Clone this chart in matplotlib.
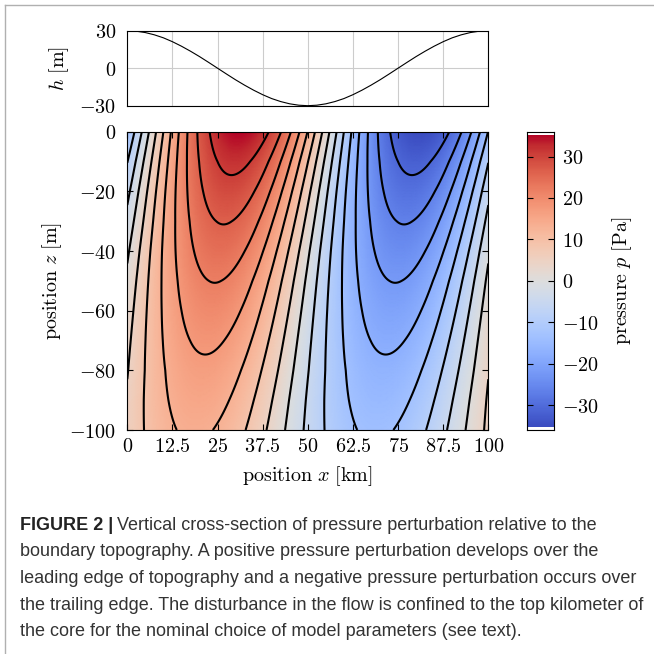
import numpy as np
import matplotlib
matplotlib.use("Agg")
import matplotlib.pyplot as plt
from matplotlib.ticker import FuncFormatter
from matplotlib.lines import Line2D

plt.rcParams['mathtext.fontset'] = 'cm'
plt.rcParams['font.family'] = ['DejaVu Serif']

# ---------------- data ----------------
# topography h(x)
h_x = [0, 2.5, 5, 7.5, 10, 12.5, 15, 17.5, 20, 22.5, 25, 27.5, 30, 32.5, 35, 37.5, 40,
       42.5, 45, 47.5, 50, 52.5, 55, 57.5, 60, 62.5, 65, 67.5, 70, 72.5, 75, 77.5, 80,
       82.5, 85, 87.5, 90, 92.5, 95, 97.5, 100]
h_val = [30, 29.6, 28.5, 26.7, 24.3, 21.2, 17.6, 13.6, 9.3, 4.7, 0, -4.7, -9.3, -13.6,
         -17.6, -21.2, -24.3, -26.7, -28.5, -29.6, -30, -29.6, -28.5, -26.7, -24.3,
         -21.2, -17.6, -13.6, -9.3, -4.7, 0, 4.7, 9.3, 13.6, 17.6, 21.2, 24.3, 26.7,
         28.5, 29.6, 30]

# pressure field: amplitude and crest position (x of maximum) per depth
p_depth = [0, -10, -20, -30, -40, -50, -60, -70, -80, -90, -100]
p_amp = [35.2, 31.9, 29.1, 26.5, 24.2, 22.0, 20.1, 18.3, 16.6, 15.2, 13.8]
p_crest = [31.0, 29.5, 28.1, 26.8, 25.5, 24.3, 23.2, 22.1, 21.0, 19.8, 18.7]
p_wavelength = 100.0

contour_levels = [-30.625, -26.25, -21.875, -17.5, -13.125, -8.75, -4.375, 0,
                  4.375, 8.75, 13.125, 17.5, 21.875, 26.25, 30.625]
p_min, p_max = -35.2, 35.2

x_ticks = [0, 12.5, 25, 37.5, 50, 62.5, 75, 87.5, 100]
z_ticks = [0, -20, -40, -60, -80, -100]
h_ticks = [-30, 0, 30]
cb_ticks = [-30, -20, -10, 0, 10, 20, 30]

caption_lines = [
    "Vertical cross-section of pressure perturbation relative to the",
    "boundary topography. A positive pressure perturbation develops over the",
    "leading edge of topography and a negative pressure perturbation occurs over",
    "the trailing edge. The disturbance in the flow is confined to the top kilometer of",
    "the core for the nominal choice of model parameters (see text).",
]

# ---------------- build field ----------------
xg = np.linspace(0, 100, 301)
zg = np.linspace(-100, 0, 201)
amp = np.interp(zg, p_depth[::-1], p_amp[::-1])
crest = np.interp(zg, p_depth[::-1], p_crest[::-1])
X, Z = np.meshgrid(xg, zg)
P = amp[:, None] * np.cos(2 * np.pi * (X - crest[:, None]) / p_wavelength)

W, H = 654, 654
fig = plt.figure(figsize=(W / 100, H / 100), dpi=100)
fig.patch.set_facecolor('white')

def fx(px):
    return px / W

def fy(py):
    return 1 - py / H

fs = 14.5
mfmt = FuncFormatter(lambda v, pos: r'$%g$' % v)

def style_axes(ax):
    ax.tick_params(direction='in', length=4, width=0.8, top=True, right=True,
                   labelsize=fs, color='black')
    for s in ax.spines.values():
        s.set_linewidth(0.8)

# top panel
L, R = 127.3, 488.3
ax_h = fig.add_axes([fx(L), fy(105.7), fx(R) - fx(L), fy(30.7) - fy(105.7)])
ax_h.plot(h_x, h_val, color='black', lw=0.8)
ax_h.set_xlim(0, 100)
ax_h.set_ylim(-30, 30)
ax_h.set_xticks(x_ticks)
ax_h.set_yticks(h_ticks)
ax_h.grid(True, color='#cccccc', lw=0.8)
ax_h.set_axisbelow(True)
style_axes(ax_h)
ax_h.tick_params(labelbottom=False, length=0)
ax_h.yaxis.set_major_formatter(mfmt)
ax_h.tick_params(axis='y', pad=8)
ax_h.set_ylabel(r'$h\ [\mathrm{m}]$', fontsize=fs, labelpad=6)

# main panel
ax = fig.add_axes([fx(L), fy(430), fx(R) - fx(L), fy(131.7) - fy(430)])
ax.pcolormesh(X, Z, P, cmap='coolwarm', vmin=p_min, vmax=p_max, shading='gouraud',
              rasterized=True)
ax.contour(X, Z, P, levels=contour_levels, colors='black', linewidths=1.5,
           linestyles='solid')
ax.set_xlim(0, 100)
ax.set_ylim(-100, 0)
ax.set_xticks(x_ticks)
ax.set_yticks(z_ticks)
style_axes(ax)
ax.xaxis.set_major_formatter(mfmt)
ax.yaxis.set_major_formatter(mfmt)
ax.tick_params(axis='x', pad=5)
ax.tick_params(axis='y', pad=8)
ax.set_xlabel(r'$\mathrm{position}\ x\ [\mathrm{km}]$', fontsize=fs, labelpad=6)
ax.set_ylabel(r'$\mathrm{position}\ z\ [\mathrm{m}]$', fontsize=fs, labelpad=4)

# colorbar
cax = fig.add_axes([fx(527), fy(430), fx(554) - fx(527), fy(131.7) - fy(430)])
cb_vals = np.linspace(p_min, p_max, 256)
cax.pcolormesh([0, 1], np.linspace(p_min, p_max, 257), cb_vals[:, None],
               cmap='coolwarm', vmin=p_min, vmax=p_max)
cax.set_xlim(0, 1)
cax.set_ylim(-36, 36)
cax.set_xticks([])
cax.set_yticks(cb_ticks)
cax.yaxis.set_major_formatter(mfmt)
cax.tick_params(axis='y', direction='in', length=4, width=0.8, left=True, right=True,
                labelleft=False, labelright=True, labelsize=fs, pad=6)
for s in cax.spines.values():
    s.set_linewidth(0.8)
cax.yaxis.set_label_position('right')
cax.set_ylabel(r'$\mathrm{pressure}\ p\ [\mathrm{Pa}]$', fontsize=fs, labelpad=8)

# frame lines of the figure box
fig.add_artist(Line2D([fx(5), fx(5)], [fy(5), 0], color='#b0b0b0', lw=1.0))
fig.add_artist(Line2D([fx(5), 1], [fy(5), fy(5)], color='#b0b0b0', lw=1.0))

# caption
renderer = fig.canvas.get_renderer()
cap_x = fx(20)
target_w = 623
probe = fig.text(0, 0, caption_lines[3], fontsize=12, family='Liberation Sans')
w12 = probe.get_window_extent(renderer).width
probe.remove()
cfs = 12 * target_w / w12
line_y = [525, 552, 578.5, 605, 632]
t0 = fig.text(cap_x, fy(line_y[0]), "FIGURE 2 |", fontsize=cfs, family='Liberation Sans',
              weight='bold', va='center', color='#222222')
bb = t0.get_window_extent(renderer)
fig.text(fx(bb.x1 + 4), fy(line_y[0]), caption_lines[0], fontsize=cfs,
         family='Liberation Sans', va='center', color='#333333')
for ly, txt in zip(line_y[1:], caption_lines[1:]):
    fig.text(cap_x, fy(ly), txt, fontsize=cfs, family='Liberation Sans', va='center',
             color='#333333')

fig.savefig('out.png', dpi=100)
